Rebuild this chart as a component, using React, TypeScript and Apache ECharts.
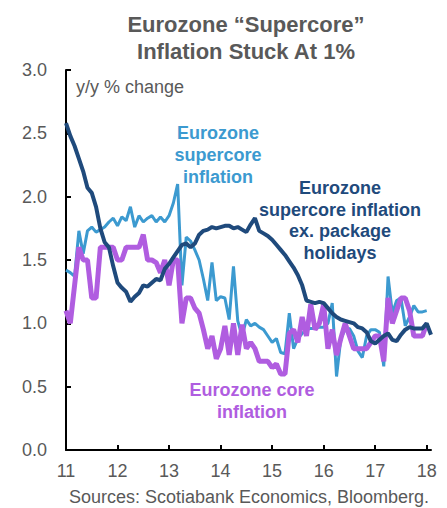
import React, { useEffect, useRef } from "react";
import * as echarts from "echarts";

// Monthly categories Jan 2011 .. Feb 2018
const months: string[] = [];
for (let y = 2011; y <= 2018; y++) {
  for (let m = 1; m <= 12; m++) {
    if (y === 2018 && m > 2) break;
    months.push(`${y}-${m < 10 ? "0" + m : m}`);
  }
}

const supercore = [
  1.42, 1.4, 1.37, 1.73, 1.55, 1.73, 1.76, 1.72, 1.74, 1.76, 1.8, 1.83,
  1.77, 1.84, 1.81, 1.92, 1.76, 1.85, 1.8, 1.83, 1.85, 1.8, 1.84, 1.8,
  1.85, 1.95, 2.1, 1.3, 1.68, 1.65, 1.58, 1.5, 1.35, 1.18, 1.48, 1.18,
  1.21, 1.2, 1.03, 1.45, 1.02, 0.9, 1.03, 0.98, 1.0, 0.97, 0.95, 0.9,
  0.85, 0.88, 0.77, 0.76, 1.08, 0.8, 0.88, 0.92, 0.95, 0.96, 0.96, 0.97,
  0.97, 1.0, 1.16, 0.58, 0.88, 0.95, 0.96, 0.9, 0.78, 0.73, 0.9, 0.95,
  0.95, 0.93, 0.66, 1.37, 1.08, 1.18, 1.2, 0.98, 1.05, 1.14, 1.09, 1.09,
  1.1,
];

const supercoreExHolidays = [
  2.58, 2.48, 2.4, 2.3, 2.2, 2.07, 2.03, 1.92, 1.75, 1.64, 1.6, 1.45,
  1.32, 1.28, 1.25, 1.17, 1.21, 1.24, 1.3, 1.29, 1.32, 1.35, 1.34, 1.43,
  1.47, 1.52, 1.57, 1.62, 1.63, 1.6, 1.63, 1.7, 1.73, 1.74, 1.76, 1.75,
  1.76, 1.77, 1.77, 1.75, 1.76, 1.74, 1.72, 1.78, 1.83, 1.73, 1.71, 1.69,
  1.66, 1.62, 1.58, 1.54, 1.49, 1.44, 1.38, 1.3, 1.18, 1.17, 1.16, 1.17,
  1.16, 1.12, 1.08, 1.05, 1.03, 1.02, 1.01, 1.0, 0.97, 0.96, 0.93, 0.86,
  0.84, 0.87, 0.9, 0.92, 0.87, 0.86, 0.91, 0.95, 0.97, 0.96, 0.96, 0.96,
  1.0, 0.91,
];

const core = [
  1.1, 1.0, 1.3, 1.6, 1.5, 1.5, 1.2, 1.2, 1.6, 1.6, 1.6, 1.6,
  1.5, 1.5, 1.6, 1.6, 1.6, 1.6, 1.7, 1.5, 1.5, 1.48, 1.4, 1.5,
  1.3, 1.5, 1.5, 1.0, 1.2, 1.2, 1.12, 1.08, 0.95, 0.8, 0.9, 0.72,
  0.8, 0.98, 0.75, 1.0, 0.75, 0.99, 0.8, 0.85, 0.8, 0.7, 0.7, 0.7,
  0.65, 0.68, 0.6, 0.6, 0.92, 0.95, 0.85, 1.05, 0.9, 1.15, 0.95, 1.0,
  1.15, 0.8, 0.95, 0.75, 0.88, 1.0, 0.9, 0.8, 0.8, 0.8, 0.8, 0.85,
  0.9, 0.9, 0.7, 1.2, 1.0, 1.1, 1.2, 1.2, 1.1, 0.9, 0.9, 0.9,
  1.0,
];

const yTicks = { min: 0, max: 3, interval: 0.5 };

const COL_BLUE = "#3C9AD0";
const COL_NAVY = "#1F4A7C";
const COL_PURPLE = "#B05DE0";
const COL_TEXT = "#595959";
const FONT = "Liberation Sans, Arial, sans-serif";

export default function App() {
  const ref = useRef<HTMLDivElement>(null);
  useEffect(() => {
    document.body.style.margin = "0";
    if (!ref.current) return;
    const chart = echarts.init(ref.current, undefined, { renderer: "svg" });
    const labelText = (
      x: number,
      y: number,
      text: string,
      fill: string,
      size: number,
      weight: string,
      lineHeight: number,
      align: string = "center"
    ) => ({
      type: "text",
      x,
      y,
      style: {
        text,
        fill,
        font: `${weight} ${size}px ${FONT}`,
        fontFamily: FONT,
        fontSize: size,
        fontWeight: weight,
        textAlign: align,
        textVerticalAlign: "top",
        lineHeight,
      },
      silent: true,
    });
    chart.setOption({
      animation: false,
      backgroundColor: "#ffffff",
      grid: { left: 66, right: 16, top: 70, bottom: 58, containLabel: false },
      xAxis: {
        type: "category",
        data: months,
        boundaryGap: false,
        axisLine: { show: true, lineStyle: { color: "#000", width: 2 } },
        axisTick: {
          show: true,
          inside: true,
          length: 5,
          interval: 11,
          lineStyle: { color: "#000", width: 2 },
        },
        axisLabel: {
          interval: 11,
          color: COL_TEXT,
          fontFamily: FONT,
          fontSize: 18,
          margin: 12,
          formatter: (v: string) => v.slice(2, 4),
        },
        splitLine: { show: false },
      },
      yAxis: {
        type: "value",
        min: yTicks.min,
        max: yTicks.max,
        interval: yTicks.interval,
        axisLine: { show: true, lineStyle: { color: "#000", width: 2 } },
        axisTick: {
          show: true,
          inside: true,
          length: 5,
          lineStyle: { color: "#000", width: 2 },
        },
        axisLabel: {
          color: COL_TEXT,
          fontFamily: FONT,
          fontSize: 18,
          margin: 19,
          formatter: (v: number) => v.toFixed(1),
        },
        splitLine: { show: false },
      },
      series: [
        {
          name: "Eurozone supercore inflation",
          type: "line",
          data: supercore,
          showSymbol: false,
          lineStyle: { color: COL_BLUE, width: 3 },
          z: 2,
        },
        {
          name: "Eurozone core inflation",
          type: "line",
          data: core,
          showSymbol: false,
          lineStyle: { color: COL_PURPLE, width: 5 },
          z: 3,
        },
        {
          name: "Eurozone supercore inflation ex. package holidays",
          type: "line",
          data: supercoreExHolidays,
          showSymbol: false,
          lineStyle: { color: COL_NAVY, width: 4 },
          z: 4,
        },
      ],
      graphic: [
        labelText(246, 11, "Eurozone “Supercore”\nInflation Stuck At 1%", COL_TEXT, 22, "bold", 27),
        labelText(76, 77, "y/y % change", COL_TEXT, 18, "normal", 20, "left"),
        labelText(218, 122, "Eurozone\nsupercore\ninflation", COL_BLUE, 18, "bold", 22),
        labelText(340, 177, "Eurozone\nsupercore inflation\nex. package\nholidays", COL_NAVY, 18, "bold", 21.7),
        labelText(252, 379, "Eurozone core\ninflation", COL_PURPLE, 18, "bold", 22),
        labelText(249, 487, "Sources: Scotiabank Economics, Bloomberg.", COL_TEXT, 18, "normal", 20),
      ],
    });
    return () => chart.dispose();
  }, []);
  return <div ref={ref} style={{ width: 447, height: 508 }} />;
}
